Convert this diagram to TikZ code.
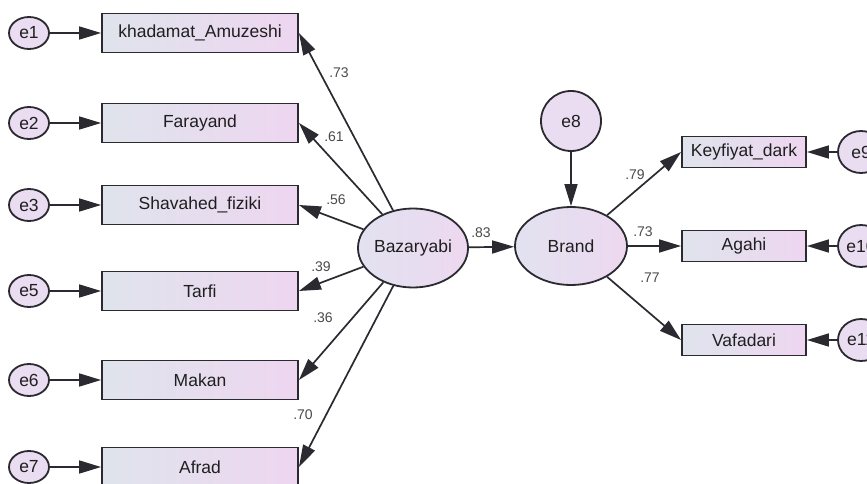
\documentclass[tikz,border=0pt]{standalone}
\usepackage{fontspec}
\setmainfont{Liberation Sans}
\usetikzlibrary{shapes.geometric,arrows.meta}
\definecolor{boxL}{HTML}{DFE4EC}
\definecolor{boxR}{HTML}{EED6F0}
\definecolor{ellL}{HTML}{E2E2F0}
\definecolor{ellR}{HTML}{EDD8F0}
\definecolor{errF}{HTML}{EADDF1}
\definecolor{edgec}{HTML}{2A2A30}
\definecolor{lblc}{HTML}{4A4A4A}
\begin{document}
\begin{tikzpicture}[x=1pt,y=-1pt,
 every node/.style={font=\fontsize{17.5}{20}\selectfont, text=black!88},
 obs/.style={rectangle, draw=edgec, line width=1.9pt, left color=boxL, right color=boxR, minimum width=196pt, minimum height=39pt, inner sep=0pt},
 obsr/.style={obs, minimum width=124pt, minimum height=31pt},
 err/.style={ellipse, draw=edgec, line width=1.8pt, fill=errF, minimum width=40pt, minimum height=32pt, inner sep=0pt},
 errr/.style={err, minimum width=46pt, minimum height=42pt},
 lat/.style={ellipse, draw=edgec, line width=1.8pt, left color=ellL, right color=ellR, minimum width=106pt, minimum height=79pt, inner sep=0pt},
 arr/.style={draw=edgec, line width=1.7pt, -{Triangle[length=22pt,width=13pt]}},
 lbl/.style={font=\fontsize{14}{16}\selectfont, text=lblc, inner sep=0pt}
]
\useasboundingbox (0,0) rectangle (867,484);
\clip (0,0) rectangle (867,484);
\fill[white] (0,0) rectangle (867,484);

% observed indicators of Bazaryabi
\node[obs] (b1) at (200,33) {khadamat\_Amuzeshi};
\node[obs] (b2) at (200,123) {Farayand};
\node[obs] (b3) at (200,205) {Shavahed\_fiziki};
\node[obs] (b4) at (200,291) {Tarfi};
\node[obs] (b5) at (200,380) {Makan};
\node[obs] (b6) at (200,467) {Afrad};

% error terms left
\node[err] (e1) at (29,33) {e1};
\node[err] (e2) at (29,123) {e2};
\node[err] (e3) at (29,205) {e3};
\node[err] (e5) at (29,291) {e5};
\node[err] (e6) at (29,380) {e6};
\node[err] (e7) at (29,467) {e7};

% latent variables
\node[lat] (baz) at (413,248) {Bazaryabi};
\node[lat, minimum width=112pt, minimum height=78pt] (brand) at (571,246) {Brand};
\node[err, minimum width=60pt, minimum height=60pt] (e8) at (571,121) {e8};

% observed indicators of Brand
\node[obsr] (r1) at (744,152) {Keyfiyat\_dark};
\node[obsr] (r2) at (744,246) {Agahi};
\node[obsr] (r3) at (744,340) {Vafadari};

% error terms right
\node[errr] (e9) at (861,152) {e9};
\node[errr] (e10) at (861,246) {e10};
\node[errr] (e11) at (861,340) {e11};

% connectors
\draw[arr] (e1) -- (b1);
\draw[arr] (e2) -- (b2);
\draw[arr] (e3) -- (b3);
\draw[arr] (e5) -- (b4);
\draw[arr] (e6) -- (b5);
\draw[arr] (e7) -- (b6);

\draw[arr] (baz) -- (b1.east);
\draw[arr] (baz) -- (b2.east);
\draw[arr] (baz) -- (b3.east);
\draw[arr] (baz) -- (b4.east);
\draw[arr] (baz) -- (b5.east);
\draw[arr] (baz) -- (b6.east);

\draw[arr] (baz) -- (brand);
\draw[arr] (e8) -- (brand);

\draw[arr] (brand) -- (r1.west);
\draw[arr] (brand) -- (r2.west);
\draw[arr] (brand) -- (r3.west);

\draw[arr] (e9) -- (r1);
\draw[arr] (e10) -- (r2);
\draw[arr] (e11) -- (r3);

% loadings
\node[lbl] (l1) at (339,73) {.73};
\node[lbl] (l2) at (334,137) {.61};
\node[lbl] (l3) at (336,200) {.56};
\node[lbl] (l4) at (321,267) {.39};
\node[lbl] (l5) at (323,318) {.36};
\node[lbl] (l6) at (303,415) {.70};
\node[lbl] (l7) at (481,233) {.83};
\node[lbl] (l8) at (635,175) {.79};
\node[lbl] (l9) at (643,232) {.73};
\node[lbl] (l10) at (650,278) {.77};
\end{tikzpicture}
\end{document}
